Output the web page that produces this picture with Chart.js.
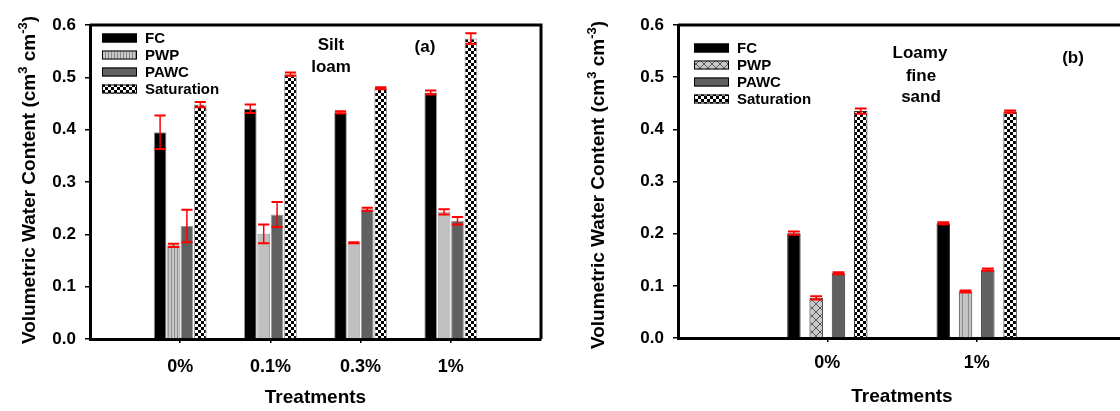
<!DOCTYPE html>
<html>
<head>
<meta charset="utf-8">
<script src="https://cdn.jsdelivr.net/npm/chart.js@4.4.1/dist/chart.umd.min.js"></script>
<style>
  html, body { margin: 0; padding: 0; background: #fff; }
  #wrap { position: relative; width: 1120px; height: 411px; overflow: hidden; }
  #chartA { position: absolute; left: 0; top: 0; }
  #chartB { position: absolute; left: 560px; top: 0; }
</style>
</head>
<body>
<div id="wrap">
  <canvas id="chartA" width="560" height="411"></canvas>
  <canvas id="chartB" width="600" height="411"></canvas>
</div>
<script>
var seriesNames = ['FC', 'PWP', 'PAWC', 'Saturation'];
var yTicks = [0.0, 0.1, 0.2, 0.3, 0.4, 0.5, 0.6];

// (a) silt loam
var treatmentsA = ['0%', '0.1%', '0.3%', '1%'];
var fcA   = [0.395, 0.440, 0.433, 0.471];
var pwpA  = [0.179, 0.201, 0.184, 0.243];
var pawcA = [0.216, 0.238, 0.248, 0.226];
var satA  = [0.448, 0.506, 0.479, 0.574];
var fcErrA   = [0.032, 0.008, 0.002, 0.004];
var pwpErrA  = [0.003, 0.018, 0.001, 0.005];
var pawcErrA = [0.031, 0.024, 0.003, 0.007];
var satErrA  = [0.005, 0.003, 0.002, 0.010];

// (b) loamy fine sand
var treatmentsB = ['0%', '1%'];
var fcB   = [0.201, 0.220];
var pwpB  = [0.077, 0.089];
var pawcB = [0.124, 0.131];
var satB  = [0.435, 0.434];
var fcErrB   = [0.003, 0.002];
var pwpErrB  = [0.003, 0.002];
var pawcErrB = [0.002, 0.002];
var satErrB  = [0.005, 0.002];

var FONT = '"Liberation Sans", Arial, sans-serif';
Chart.defaults.font.family = FONT;
Chart.defaults.color = '#000';

function makePattern(kind) {
  var c = document.createElement('canvas');
  var g = c.getContext('2d');
  if (kind === 'checker') {
    c.width = 6; c.height = 6;
    g.fillStyle = '#fff'; g.fillRect(0, 0, 6, 6);
    g.fillStyle = '#000'; g.fillRect(0, 0, 3, 3); g.fillRect(3, 3, 3, 3);
  } else if (kind === 'stripes') {
    c.width = 3; c.height = 3;
    g.fillStyle = '#c8c8c8'; g.fillRect(0, 0, 3, 3);
    g.fillStyle = '#8a8a8a'; g.fillRect(0, 0, 1, 3);
  } else if (kind === 'stripesWide') {
    c.width = 6; c.height = 6;
    g.fillStyle = '#c4c4c4'; g.fillRect(0, 0, 6, 6);
    g.fillStyle = '#8c8c8c'; g.fillRect(0, 0, 1, 6);
  } else if (kind === 'cross') {
    c.width = 8; c.height = 8;
    g.fillStyle = '#c8c8c8'; g.fillRect(0, 0, 8, 8);
    g.strokeStyle = '#5a5a5a'; g.lineWidth = 1;
    g.beginPath(); g.moveTo(0, 0); g.lineTo(8, 8); g.moveTo(8, 0); g.lineTo(0, 8); g.stroke();
  }
  return g.createPattern(c, 'repeat');
}

var errorBars = {
  id: 'errorBars',
  afterDatasetsDraw: function (chart) {
    var ctx = chart.ctx, y = chart.scales.y;
    chart.data.datasets.forEach(function (ds, di) {
      chart.getDatasetMeta(di).data.forEach(function (bar, i) {
        var v = ds.data[i].y, e = ds.errors[i];
        var top = y.getPixelForValue(v + e), bot = y.getPixelForValue(v - e);
        var half = bar.width * 0.44;
        ctx.save();
        ctx.strokeStyle = '#ff0000';
        ctx.lineWidth = 1.5;
        ctx.beginPath(); ctx.moveTo(bar.x, top); ctx.lineTo(bar.x, bot); ctx.stroke();
        ctx.lineWidth = 2;
        ctx.beginPath();
        ctx.moveTo(bar.x - half, top); ctx.lineTo(bar.x + half, top);
        ctx.moveTo(bar.x - half, bot); ctx.lineTo(bar.x + half, bot);
        ctx.stroke();
        ctx.restore();
      });
    });
  }
};

var frameAndText = {
  id: 'frameAndText',
  beforeDatasetsDraw: function (chart) {
    var a = chart.chartArea, ctx = chart.ctx, o = chart.options.plugins.frameAndText;
    ctx.save();
    ctx.strokeStyle = '#000'; ctx.lineWidth = 3;
    ctx.beginPath();
    ctx.moveTo(a.left, a.top); ctx.lineTo(a.right, a.top); ctx.lineTo(a.right, a.bottom);
    ctx.stroke();

    // legend inside the plot
    ctx.font = 'bold 15px ' + FONT;
    ctx.textBaseline = 'middle';
    ctx.textAlign = 'left';
    chart.data.datasets.forEach(function (ds, i) {
      var cy = a.top + o.legendTop + i * 17;
      var sx = a.left + o.legendLeft;
      ctx.fillStyle = ds.legendFill;
      ctx.fillRect(sx, cy - 4.5, 35, 9);
      ctx.lineWidth = 1; ctx.strokeStyle = '#000';
      ctx.strokeRect(sx + 0.5, cy - 4, 34, 8);
      ctx.fillStyle = '#000';
      ctx.fillText(ds.label, sx + 43, cy + 1);
    });

    // notes
    ctx.font = 'bold 17px ' + FONT;
    ctx.textAlign = 'center';
    o.notes.forEach(function (n) { ctx.fillText(n[0], n[1], n[2]); });

    // y axis title with superscripts
    var parts = [['Volumetric Water Content (cm', 19, 0], ['3', 13, -8], [' cm', 19, 0], ['-3', 13, -8], [')', 19, 0]];
    var total = 0;
    parts.forEach(function (p) { ctx.font = 'bold ' + p[1] + 'px ' + FONT; p.push(ctx.measureText(p[0]).width); total += p[3]; });
    ctx.translate(o.yTitleX, o.yTitleY);
    ctx.rotate(-Math.PI / 2);
    ctx.textAlign = 'left';
    ctx.textBaseline = 'alphabetic';
    var x = -total / 2;
    parts.forEach(function (p) {
      ctx.font = 'bold ' + p[1] + 'px ' + FONT;
      ctx.fillText(p[0], x, 7 + p[2]);
      x += p[3];
    });
    ctx.restore();
  }
};

function buildChart(id, o) {
  var labels = o.labels;
  var values = [o.fc, o.pwp, o.pawc, o.sat];
  var errs = [o.fcErr, o.pwpErr, o.pawcErr, o.satErr];
  var datasets = seriesNames.map(function (name, k) {
    return {
      label: name,
      data: values[k].map(function (v, i) { return { x: i + 1, y: v }; }),
      errors: errs[k],
      backgroundColor: o.fills[k],
      legendFill: o.legendFills[k],
      borderColor: o.border,
      borderWidth: 1,
      categoryPercentage: o.catPct,
      barPercentage: o.barPct
    };
  });

  new Chart(document.getElementById(id), {
    type: 'bar',
    data: { datasets: datasets },
    options: {
      responsive: false,
      animation: false,
      layout: { padding: { left: 0, top: 25, right: o.padRight, bottom: 0 } },
      plugins: {
        legend: { display: false },
        tooltip: { enabled: false },
        frameAndText: { notes: o.notes, legendLeft: o.legendLeft, legendTop: o.legendTop, yTitleX: o.yTitleX, yTitleY: o.yTitleY }
      },
      scales: {
        x: {
          type: 'linear',
          min: 0,
          max: labels.length + 1,
          offset: false,
          afterBuildTicks: function (s) { s.ticks = labels.map(function (_, i) { return { value: i + 1 }; }); },
          afterFit: function (s) { s.height = o.xHeight; },
          ticks: {
            callback: function (v) { return labels[v - 1]; },
            font: { size: 18, weight: 'bold' },
            color: '#000',
            padding: o.xTickPad,
            maxRotation: 0,
            autoSkip: false
          },
          grid: { offset: false, drawOnChartArea: false, drawTicks: true, tickLength: 4, color: '#000', lineWidth: 1.5 },
          border: { display: true, color: '#000', width: 3 },
          title: { display: true, text: 'Treatments', font: { size: 19, weight: 'bold' }, color: '#000', padding: { top: 4, bottom: o.xTitlePad } }
        },
        y: {
          min: 0,
          max: 0.6,
          afterBuildTicks: function (s) { s.ticks = yTicks.map(function (v) { return { value: v }; }); },
          afterFit: function (s) { s.width = o.yWidth; },
          ticks: {
            callback: function (v) { return v.toFixed(1); },
            font: { size: 17, weight: 'bold' },
            color: '#000',
            padding: 9
          },
          grid: { drawOnChartArea: false, drawTicks: true, tickLength: 5, color: '#000', lineWidth: 1.5 },
          border: { display: true, color: '#000', width: 3 }
        }
      }
    },
    plugins: [frameAndText, errorBars]
  });
}

var checker = makePattern('checker');
var stripes = makePattern('stripes');
var light = '#c0c0c0';
var darkGray = '#606060';

buildChart('chartA', {
  labels: treatmentsA,
  fc: fcA, pwp: pwpA, pawc: pawcA, sat: satA,
  fcErr: fcErrA, pwpErr: pwpErrA, pawcErr: pawcErrA, satErr: satErrA,
  fills: ['#000', [stripes, light, light, light], darkGray, checker],
  legendFills: ['#000', stripes, darkGray, checker],
  border: '#9a9a9a',
  catPct: 0.594, barPct: 0.95,
  padRight: 19, xHeight: 72, yWidth: 90,
  xTickPad: 13, xTitlePad: 1.6,
  legendLeft: 12, legendTop: 13,
  yTitleX: 28, yTitleY: 180,
  notes: [['Silt', 331, 45], ['loam', 331, 67], ['(a)', 425, 47]]
});

buildChart('chartB', {
  labels: treatmentsB,
  fc: fcB, pwp: pwpB, pawc: pawcB, sat: satB,
  fcErr: fcErrB, pwpErr: pwpErrB, pawcErr: pawcErrB, satErr: satErrB,
  fills: ['#000', [makePattern('cross'), makePattern('stripesWide')], darkGray, checker],
  legendFills: ['#000', makePattern('cross'), darkGray, checker],
  border: '#333',
  catPct: 0.597, barPct: 0.605,
  padRight: 34, xHeight: 73, yWidth: 118,
  xTickPad: 10, xTitlePad: 2.6,
  legendLeft: 16, legendTop: 23,
  yTitleX: 37, yTitleY: 185,
  notes: [['Loamy', 360, 53], ['fine', 361, 76], ['sand', 361, 97], ['(b)', 513, 58]]
});
</script>
</body>
</html>
